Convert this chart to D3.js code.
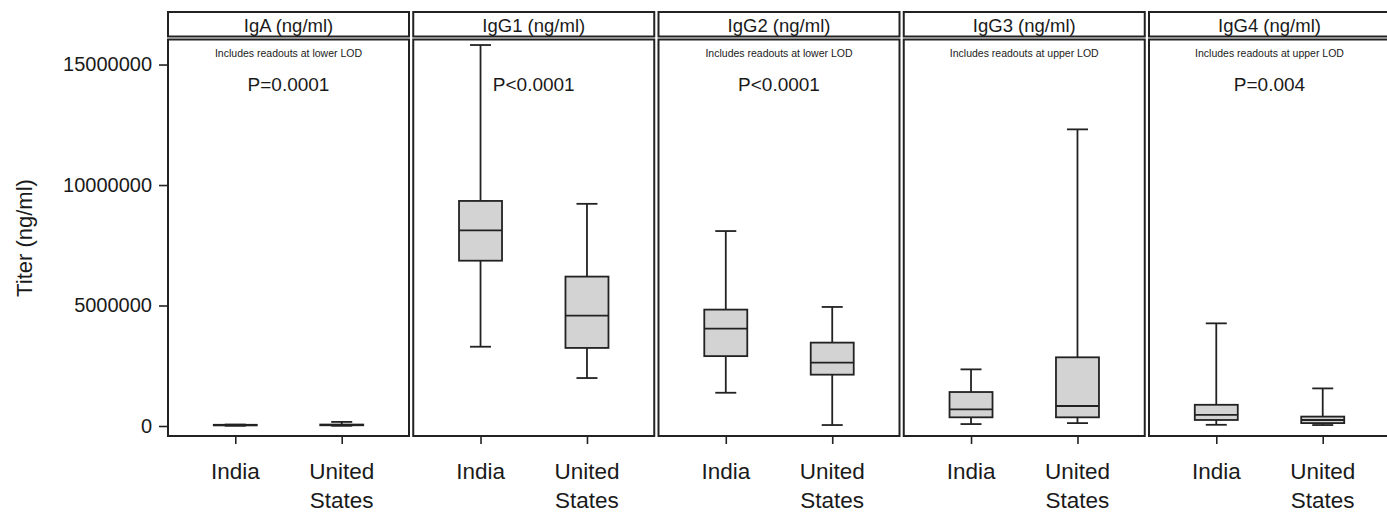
<!DOCTYPE html>
<html><head><meta charset="utf-8">
<script src="https://cdn.jsdelivr.net/npm/d3@7"></script>
<style>body{margin:0;background:#fff}svg{display:block}text{font-family:"Liberation Sans",Arial,sans-serif;fill:#1a1a1a}</style>
</head><body><svg id="c" width="1387" height="512"></svg>
<script>
const panels = ["IgA (ng/ml)", "IgG1 (ng/ml)", "IgG2 (ng/ml)", "IgG3 (ng/ml)", "IgG4 (ng/ml)"];
const notes = ["Includes readouts at lower LOD", "", "Includes readouts at lower LOD", "Includes readouts at upper LOD", "Includes readouts at upper LOD"];
const pvalues = ["P=0.0001", "P<0.0001", "P<0.0001", "", "P=0.004"];
const countries = ["India", "United States"];
const yTicks = [0, 5000000, 10000000, 15000000];

// India statistics per panel
const indiaMin = [10000, 3290000, 1380000, 80000, 50000];
const indiaQ1  = [25000, 6860000, 2900000, 360000, 250000];
const indiaMed = [35000, 8120000, 4040000, 690000, 460000];
const indiaQ3  = [50000, 9340000, 4830000, 1410000, 880000];
const indiaMax = [60000, 15810000, 8090000, 2350000, 4260000];
// United States statistics per panel
const usMin = [10000, 1990000, 40000, 120000, 40000];
const usQ1  = [30000, 3240000, 2130000, 360000, 120000];
const usMed = [40000, 4580000, 2630000, 830000, 250000];
const usQ3  = [60000, 6200000, 3460000, 2850000, 390000];
const usMax = [170000, 9220000, 4940000, 12310000, 1560000];

const svg = d3.select("#c");
const ink = "#222";
const plotTop = 39.5, plotBottom = 436, headTop = 12, headBottom = 36.5;
const panelW = 241, firstX = 168, stepX = 245.25;

const y = d3.scaleLinear().domain([-415000, 16060000]).range([plotBottom, 39]);

// Y axis
const yAxis = svg.append("g").attr("transform", `translate(${firstX},0)`)
  .call(d3.axisLeft(y).tickValues(yTicks).tickFormat(d3.format("d")).tickSize(9).tickPadding(7));
yAxis.select(".domain").remove();
yAxis.selectAll("line").attr("stroke", ink).attr("stroke-width", 1.6);
yAxis.selectAll("text").attr("font-size", 20).attr("fill", "#1a1a1a").style("font-family", '"Liberation Sans",Arial,sans-serif');

svg.append("text").attr("transform", `translate(32,238) rotate(-90)`)
  .attr("text-anchor", "middle").attr("font-size", 22).text("Titer (ng/ml)");

const x = d3.scalePoint().domain(countries).range([0, panelW]).padding(0.632);
const boxW = 43, capW = 21;

panels.forEach((name, i) => {
  const gx = firstX + i * stepX;
  const g = svg.append("g").attr("transform", `translate(${gx},0)`);
  // header
  g.append("rect").attr("x", 0).attr("y", headTop).attr("width", panelW).attr("height", headBottom - headTop)
    .attr("fill", "#fff").attr("stroke", ink).attr("stroke-width", 2);
  g.append("text").attr("x", panelW / 2).attr("y", 32).attr("text-anchor", "middle").attr("font-size", 18.5).text(name);
  // plot frame
  g.append("rect").attr("x", 0).attr("y", plotTop).attr("width", panelW).attr("height", plotBottom - plotTop)
    .attr("fill", "#fff").attr("stroke", ink).attr("stroke-width", 2);
  if (notes[i]) g.append("text").attr("x", panelW / 2).attr("y", 57).attr("text-anchor", "middle").attr("font-size", 10.5).text(notes[i]);
  if (pvalues[i]) g.append("text").attr("x", panelW / 2).attr("y", 91).attr("text-anchor", "middle").attr("font-size", 19).text(pvalues[i]);

  // x axis
  const xa = g.append("g").attr("transform", `translate(0,${plotBottom})`)
    .call(d3.axisBottom(x).tickSize(8).tickFormat(""));
  xa.select(".domain").remove();
  xa.selectAll("line").attr("stroke", ink).attr("stroke-width", 1.6);
  countries.forEach(c => {
    const parts = c.split(" ");
    const t = g.append("text").attr("x", x(c)).attr("y", 479).attr("text-anchor", "middle").attr("font-size", 22.5);
    parts.forEach((p, k) => t.append("tspan").attr("x", x(c)).attr("dy", k ? 29 : 0).text(p));
  });

  const stats = [
    {c: countries[0], min: indiaMin[i], q1: indiaQ1[i], med: indiaMed[i], q3: indiaQ3[i], max: indiaMax[i]},
    {c: countries[1], min: usMin[i], q1: usQ1[i], med: usMed[i], q3: usQ3[i], max: usMax[i]}
  ];
  stats.forEach(s => {
    const cx = x(s.c);
    const b = g.append("g").attr("stroke", ink).attr("stroke-width", 1.8).attr("fill", "none");
    b.append("line").attr("x1", cx).attr("x2", cx).attr("y1", y(s.max)).attr("y2", y(s.q3));
    b.append("line").attr("x1", cx).attr("x2", cx).attr("y1", y(s.q1)).attr("y2", y(s.min));
    b.append("line").attr("x1", cx - capW/2).attr("x2", cx + capW/2).attr("y1", y(s.max)).attr("y2", y(s.max));
    b.append("line").attr("x1", cx - capW/2).attr("x2", cx + capW/2).attr("y1", y(s.min)).attr("y2", y(s.min));
    b.append("rect").attr("x", cx - boxW/2).attr("width", boxW).attr("y", y(s.q3))
      .attr("height", Math.max(0.1, y(s.q1) - y(s.q3))).attr("fill", "#d3d3d3");
    b.append("line").attr("x1", cx - boxW/2).attr("x2", cx + boxW/2).attr("y1", y(s.med)).attr("y2", y(s.med));
  });
});
</script></body></html>
